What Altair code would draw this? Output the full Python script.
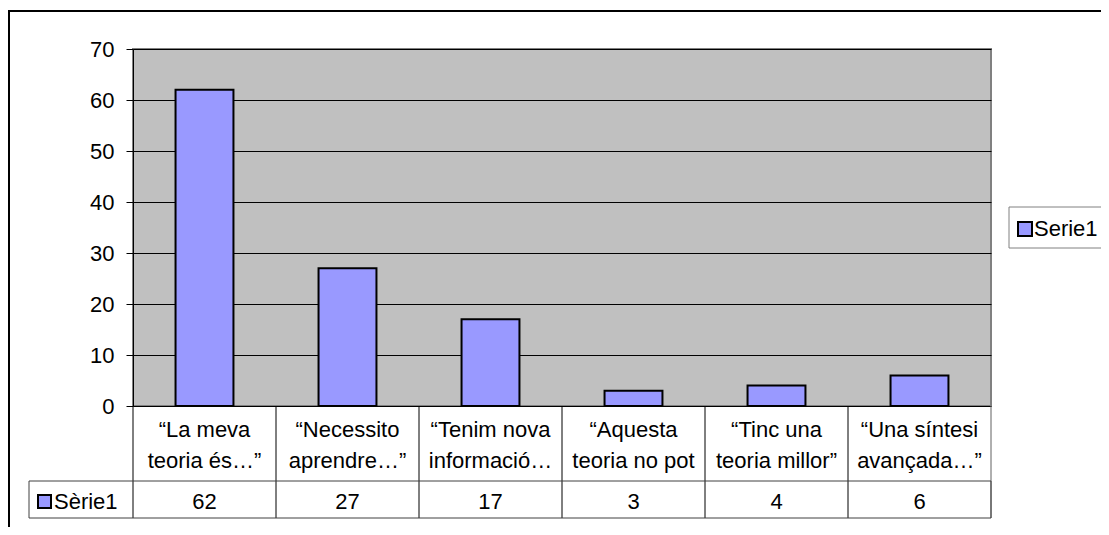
import altair as alt
import pandas as pd

# ---- data ----
label_line1 = ["“La meva", "“Necessito", "“Tenim nova", "“Aquesta", "“Tinc una", "“Una síntesi"]
label_line2 = ["teoria és…”", "aprendre…”", "informació…", "teoria no pot", "teoria millor”", "avançada…”"]
values = [62, 27, 17, 3, 4, 6]
table_series_name = ["Sèrie1"]
legend_series_name = ["Serie1"]
y_ticks = [0, 10, 20, 30, 40, 50, 60, 70]

FONT = "Liberation Sans"
FS = 22
BAR = "#9999FF"
W, H = 858, 357

df = pd.DataFrame({
    "categoria": [a + "\n" + b for a, b in zip(label_line1, label_line2)],
    "valor": values,
})
tbl = pd.DataFrame({"nom": table_series_name})
leg = pd.DataFrame({"nom": legend_series_name})

xscale = alt.Scale(paddingInner=0, paddingOuter=0)
x_plain = alt.X("categoria:N", sort=None, scale=xscale, axis=None)

bars = alt.Chart(df).mark_bar(
    color=BAR, stroke="black", strokeWidth=2, width=alt.RelativeBandSize(0.405)
).encode(
    x=alt.X("categoria:N", sort=None, scale=xscale,
            axis=alt.Axis(labels=False, title=None, domainColor="black", domainWidth=1,
                          ticks=False, grid=False)),
    y=alt.Y("valor:Q", scale=alt.Scale(domain=[0, 70], nice=False),
            axis=alt.Axis(values=y_ticks, title=None, grid=True, gridColor="black",
                          gridWidth=1, gridOpacity=1, domainColor="black", domainWidth=1,
                          tickColor="black", tickSize=7, labelPadding=12,
                          labelFont=FONT, labelFontSize=FS, labelColor="black")),
)

# vertical table separators at the start of each category band, plus the right edge
col_lines = alt.Chart(df).mark_rule(color="black", strokeWidth=1).encode(
    x=alt.X("categoria:N", sort=None, scale=xscale, axis=None, bandPosition=0),
    y=alt.value(H), y2=alt.value(469))
right_line = alt.Chart(tbl).mark_rule(color="#606060", strokeWidth=1).encode(
    x=alt.value(W), y=alt.value(H), y2=alt.value(469))

cat_text = alt.Chart(df).mark_text(
    font=FONT, fontSize=FS, lineBreak="\n", lineHeight=31, baseline="middle", color="black"
).encode(x=x_plain, y=alt.value(381), text="categoria:N")

val_text = alt.Chart(df).mark_text(
    font=FONT, fontSize=FS, baseline="middle", color="black"
).encode(x=x_plain, y=alt.value(453), text="valor:Q")

row_box = alt.Chart(tbl).mark_rect(fillOpacity=0, stroke="#404040", strokeWidth=1).encode(
    x=alt.value(-104), x2=alt.value(W), y=alt.value(432), y2=alt.value(469))

row_sq = alt.Chart(tbl).mark_rect(fill=BAR, stroke="black", strokeWidth=2).encode(
    x=alt.value(-95), x2=alt.value(-82), y=alt.value(446), y2=alt.value(459))

row_txt = alt.Chart(tbl).mark_text(
    font=FONT, fontSize=FS, align="left", baseline="middle", color="black"
).encode(x=alt.value(-79), y=alt.value(453), text="nom:N")

leg_box = alt.Chart(leg).mark_rect(fill="white", stroke="#808080", strokeWidth=1).encode(
    x=alt.value(876), x2=alt.value(1000), y=alt.value(158), y2=alt.value(199))

leg_sq = alt.Chart(leg).mark_rect(fill=BAR, stroke="black", strokeWidth=2).encode(
    x=alt.value(885), x2=alt.value(899), y=alt.value(173), y2=alt.value(187))

leg_txt = alt.Chart(leg).mark_text(
    font=FONT, fontSize=FS, align="left", baseline="middle", color="black"
).encode(x=alt.value(901), y=alt.value(180), text="nom:N")

outer = alt.Chart(leg).mark_rect(fillOpacity=0, stroke="black", strokeWidth=2).encode(
    x=alt.value(-124), x2=alt.value(1200), y=alt.value(-38), y2=alt.value(700))

chart = alt.layer(
    outer, bars, col_lines, right_line, cat_text, val_text, row_box, row_sq, row_txt,
    leg_box, leg_sq, leg_txt
).properties(
    width=W, height=H,
    autosize=alt.AutoSizeParams(type="none"),
    padding={"left": 125, "top": 41, "right": 110, "bottom": 121},
    background="white",
).configure_view(
    fill="#C0C0C0", stroke="#808080", strokeWidth=2
)

chart.save("out.html", embed_options={"renderer": "svg", "actions": False})
